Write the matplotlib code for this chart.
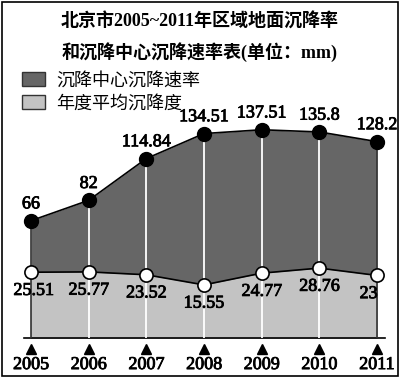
#!/usr/bin/env python3
import matplotlib
matplotlib.use('Agg')
import matplotlib.pyplot as plt
import matplotlib.patches as mpatches
import matplotlib.transforms as mtransforms
import matplotlib.patheffects as pe

plt.rcParams['font.family'] = ['Liberation Serif', 'Noto Sans CJK SC']

# data
years = ['2005', '2006', '2007', '2008', '2009', '2010', '2011']
center_rate = [66, 82, 114.84, 134.51, 137.51, 135.8, 128.2]
avg_rate = [25.51, 25.77, 23.52, 15.55, 24.77, 28.76, 23]
top_labels = ['66', '82', '114.84', '134.51', '137.51', '135.8', '128.2']
bottom_labels = ['25.51', '25.77', '23.52', '15.55', '24.77', '28.76', '23']
legend_names = ['沉降中心沉降速率', '年度平均沉降度']

dark = '#666666'
light = '#c3c3c3'
thick = [pe.withStroke(linewidth=0.6, foreground='black')]

fig = plt.figure(figsize=(4.0, 3.78), dpi=100)
ax = fig.add_axes([0.06, 0.1058, 0.9025, 0.63])

x = list(range(len(years)))
ybot = -26.2
ax.set_xlim(-0.12, 6.14)
ax.set_ylim(ybot, 161)

ax.fill_between(x, ybot, center_rate, color=dark, lw=0, zorder=1)
ax.fill_between(x, ybot, avg_rate, color=light, lw=0, zorder=2)
ax.vlines(x[1:-1], ybot, center_rate[1:-1], color='white', lw=1.3, zorder=3)
ax.vlines([x[0], x[-1]], ybot, [center_rate[0], center_rate[-1]], color='#333333', lw=1.2, zorder=3)
ax.plot(x, center_rate, color='black', lw=1.2, zorder=4)
ax.plot(x, avg_rate, color='black', lw=1.2, zorder=4)
ax.plot(x, center_rate, 'o', ms=10, color='black', zorder=5, clip_on=False)
ax.plot(x, avg_rate, 'o', ms=9.5, mfc='white', mec='black', mew=1.2, zorder=5, clip_on=False)

for i in x:
    ax.annotate(top_labels[i], (i, center_rate[i]), xytext=(0, 6), textcoords='offset points',
                ha='center', va='bottom', fontsize=13, path_effects=thick)
    dx = 2 if i == 0 else (-6 if i == x[-1] else 0)
    ax.annotate(bottom_labels[i], (i, avg_rate[i]), xytext=(dx, -7), textcoords='offset points',
                ha='center', va='top', fontsize=13, path_effects=thick)

# axis
for s in ['left', 'right', 'top']:
    ax.spines[s].set_visible(False)
ax.spines['bottom'].set_linewidth(1.2)
ax.set_yticks([])
ax.set_xticks(x)
ax.set_xticklabels(years, fontsize=13)
for t in ax.get_xticklabels():
    t.set_path_effects(thick)
ax.tick_params(axis='x', length=0, pad=13)
trans = mtransforms.blended_transform_factory(ax.transData, ax.transAxes)
ax.plot(x, [-0.045] * len(x), '^', color='black', ms=7, transform=trans, clip_on=False)

# title
fig.text(0.5, 1 - 22 / 378, '北京市2005~2011年区域地面沉降率', ha='center', va='center',
         fontsize=13, fontweight='bold')
fig.text(0.5, 1 - 52 / 378, '和沉降中心沉降速率表(单位：mm)', ha='center', va='center',
         fontsize=13, fontweight='bold')

# legend
handles = [mpatches.Patch(facecolor=dark, edgecolor='#333333', lw=1),
           mpatches.Patch(facecolor=light, edgecolor='#333333', lw=1)]
fig.legend(handles, legend_names, loc='upper left', bbox_to_anchor=(0.055, 1 - 72 / 378),
           frameon=False, fontsize=13, handlelength=1.3, handleheight=0.85,
           handletextpad=0.6, labelspacing=0.3, borderaxespad=0, borderpad=0)

# outer frame
fig.patches.append(mpatches.Rectangle((0.004, 0.004), 0.991, 0.992, transform=fig.transFigure,
                                      fill=False, edgecolor='black', lw=1.2))

fig.savefig('out.png', dpi=100)
